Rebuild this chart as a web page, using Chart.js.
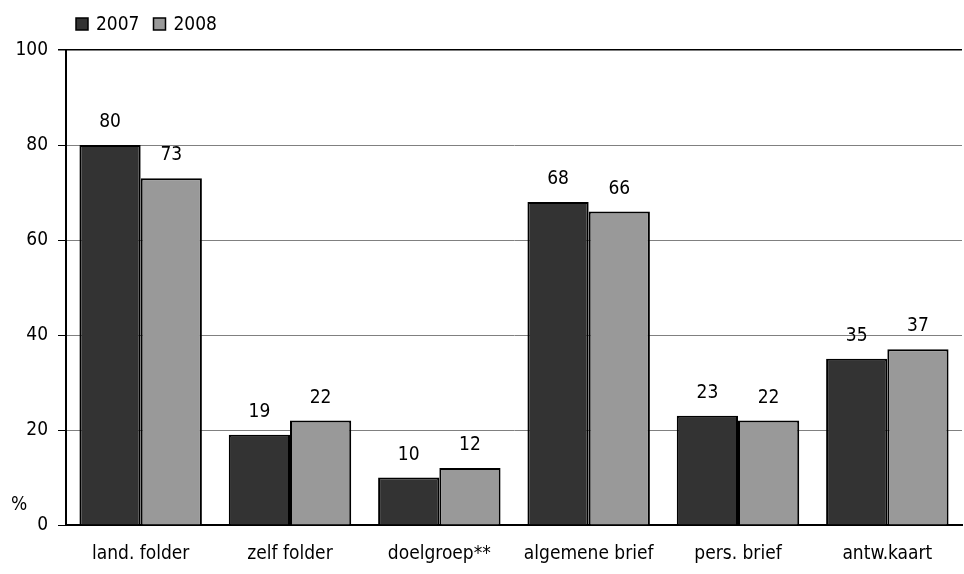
<!DOCTYPE html>
<html>
<head>
<meta charset="utf-8">
<script src="https://cdn.jsdelivr.net/npm/chart.js@4/dist/chart.umd.min.js"></script>
<style>
  html, body { margin: 0; padding: 0; background: #fff; }
  #wrap { width: 964px; height: 574px; }
</style>
</head>
<body>
<div id="wrap"><canvas id="chart" width="964" height="574"></canvas></div>
<script>
// bar chart: 2007 vs 2008 per channel
const categories = ['land. folder', 'zelf folder', 'doelgroep**', 'algemene brief', 'pers. brief', 'antw.kaart'];
const values2007 = [80, 19, 10, 68, 23, 35];
const values2008 = [73, 22, 12, 66, 22, 37];
const seriesNames = ['2007', '2008'];
const yTicks = [0, 20, 40, 60, 80, 100];

const FONT = '"Liberation Sans Narrow", "DejaVu Sans Condensed", "Liberation Sans", sans-serif';
const SIZE = 19;

const labelsPlugin = {
  id: 'labels',
  afterDatasetsDraw(chart) {
    const ctx = chart.ctx;
    ctx.save();
    ctx.fillStyle = '#000';
    ctx.font = SIZE + 'px ' + FONT;
    ctx.textAlign = 'center';
    ctx.textBaseline = 'alphabetic';
    chart.data.datasets.forEach((ds, i) => {
      chart.getDatasetMeta(i).data.forEach((bar, j) => {
        ctx.fillText(ds.data[j], bar.x, bar.y - 18);
      });
    });
    ctx.restore();
  },
  afterDraw(chart) {
    const ctx = chart.ctx;
    ctx.save();
    ctx.font = SIZE + 'px ' + FONT;
    ctx.textBaseline = 'middle';
    ctx.textAlign = 'left';
    // legend
    let x = 76;
    chart.data.datasets.forEach(ds => {
      ctx.fillStyle = ds.backgroundColor;
      ctx.fillRect(x, 18, 12, 12);
      ctx.strokeStyle = '#000';
      ctx.lineWidth = 1.5;
      ctx.strokeRect(x, 18, 12, 12);
      ctx.fillStyle = '#000';
      ctx.fillText(ds.label, x + 20, 25);
      x += 20 + ctx.measureText(ds.label).width + 14;
    });
    // % unit
    ctx.fillText('%', 11, 505);
    ctx.restore();
  }
};

new Chart(document.getElementById('chart'), {
  type: 'bar',
  data: {
    labels: categories,
    datasets: [
      { label: seriesNames[0], data: values2007, backgroundColor: '#333333', borderColor: '#000', borderWidth: 2 },
      { label: seriesNames[1], data: values2008, backgroundColor: '#999999', borderColor: '#000', borderWidth: 2 }
    ]
  },
  options: {
    responsive: false,
    animation: false,
    layout: { padding: { top: 50, right: 2, bottom: 0, left: 0 } },
    datasets: { bar: { categoryPercentage: 0.82, barPercentage: 1 } },
    plugins: { legend: { display: false }, tooltip: { enabled: false } },
    scales: {
      x: {
        grid: { display: false, drawTicks: false },
        border: { color: '#000', width: 2 },
        ticks: { color: '#000', font: { family: FONT, size: SIZE }, padding: 18 },
        afterFit(scale) { scale.height = 49; }
      },
      y: {
        min: 0, max: 100,
        afterBuildTicks(scale) { scale.ticks = yTicks.map(v => ({ value: v })); },
        grid: {
          color: c => (c.tick.value === 0 || c.tick.value === 100) ? '#000' : '#808080',
          lineWidth: c => c.tick.value === 100 ? 1.5 : 1,
          tickColor: '#000',
          tickLength: 8
        },
        border: { color: '#000', width: 2 },
        ticks: { color: '#000', font: { family: FONT, size: SIZE }, padding: 10 },
        afterFit(scale) { scale.width = 66; }
      }
    }
  },
  plugins: [labelsPlugin]
});
</script>
</body>
</html>
